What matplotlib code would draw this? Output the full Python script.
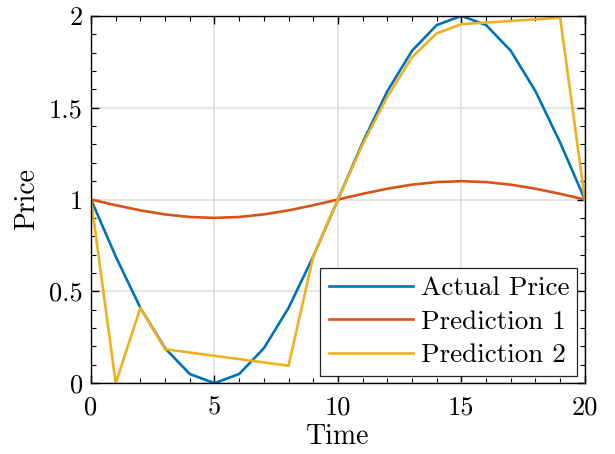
import matplotlib
matplotlib.use("Agg")
import matplotlib.pyplot as plt
from matplotlib.ticker import MultipleLocator, FuncFormatter

plt.rcParams['font.family'] = 'serif'
plt.rcParams['font.serif'] = ['cmr10']
plt.rcParams['mathtext.fontset'] = 'cm'
plt.rcParams['axes.formatter.use_mathtext'] = True

# data
t = list(range(21))
actual = [1.0, 0.69, 0.41, 0.19, 0.05, 0.0, 0.05, 0.19, 0.41, 0.69, 1.0,
          1.31, 1.59, 1.81, 1.95, 2.0, 1.95, 1.81, 1.59, 1.31, 1.0]
pred1 = [1.0, 0.969, 0.941, 0.919, 0.905, 0.9, 0.905, 0.919, 0.941, 0.969, 1.0,
         1.031, 1.059, 1.081, 1.095, 1.1, 1.095, 1.081, 1.059, 1.031, 1.0]
t2 = [0, 1, 2, 3, 8, 9, 10, 11, 12, 13, 14, 15, 19, 20]
pred2 = [1.0, 0.0, 0.41, 0.185, 0.095, 0.69, 1.0, 1.3, 1.56, 1.775, 1.905, 1.955, 1.99, 1.0]

fig = plt.figure(figsize=(6.15, 4.54), dpi=100)
ax = fig.add_axes([0.148, 0.156, 0.803, 0.809])

ax.plot(t, actual, color='#0072BD', lw=1.9, label='Actual Price')
ax.plot(t, pred1, color='#D95319', lw=1.9, label='Prediction 1')
ax.plot(t2, pred2, color='#EDB120', lw=1.9, label='Prediction 2')

ax.set_xlim(0, 20)
ax.set_ylim(0, 2)
ax.xaxis.set_major_locator(MultipleLocator(5))
ax.xaxis.set_minor_locator(MultipleLocator(1))
ax.yaxis.set_major_locator(MultipleLocator(0.5))
ax.yaxis.set_minor_locator(MultipleLocator(0.1))
fmt = FuncFormatter(lambda v, p: '%g' % v)
ax.xaxis.set_major_formatter(fmt)
ax.yaxis.set_major_formatter(fmt)
ax.tick_params(which='both', direction='in', top=True, right=True, labelsize=19)
ax.tick_params(axis='x', which='major', pad=9)
ax.tick_params(axis='y', which='major', pad=6)
ax.tick_params(which='major', length=6, width=1.0)
ax.tick_params(which='minor', length=3.5, width=0.8)
ax.grid(True, which='major', color='#dddddd', lw=1.1)
ax.set_axisbelow(True)
for s in ax.spines.values():
    s.set_linewidth(1.0)

ax.set_xlabel('Time', fontsize=20, labelpad=3)
ax.set_ylabel('Price', fontsize=20, labelpad=6)

leg = ax.legend(loc='lower right', fontsize=19.5, fancybox=False, framealpha=1,
                edgecolor='#262626', borderaxespad=0.28, handlelength=3.1,
                borderpad=0.3, labelspacing=0.36, handletextpad=0.3)
leg.get_frame().set_linewidth(0.9)

fig.savefig('out.png', dpi=100)
